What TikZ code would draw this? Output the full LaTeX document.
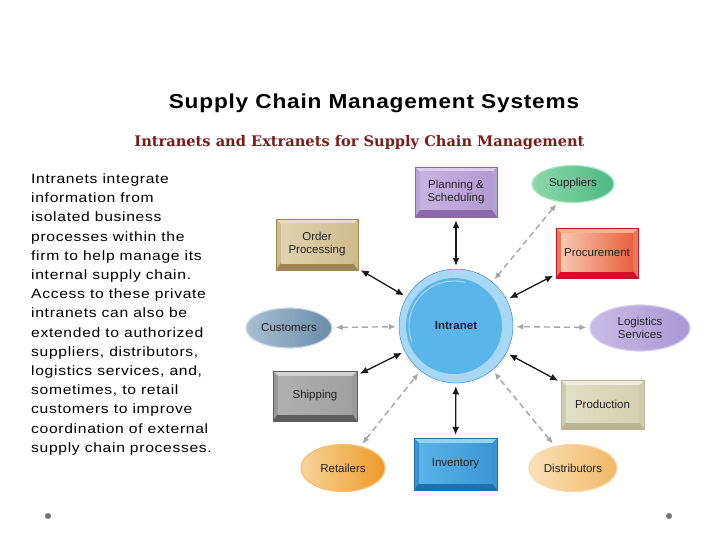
\documentclass[tikz,border=0pt]{standalone}
\usepackage{fontspec}
\setmainfont{Liberation Sans}
\newfontfamily\subfont{DejaVu Serif}
\newfontfamily\titlefont[FakeStretch=1.12, LetterSpace=4]{Liberation Sans}
\newfontfamily\parafont[FakeStretch=1.16, LetterSpace=5]{Liberation Sans}
\usetikzlibrary{shapes.geometric,arrows.meta}
\newcommand\dcol[2]{\definecolor{#1}{HTML}{#2}}
\dcol{subred}{7B1C1C}\dcol{lbl}{222222}
\dcol{ringblue}{A8D8F5}\dcol{edgeblue}{3C8CC4}\dcol{coreblue}{5AB6EA}
\dcol{pfl}{C8B4E2}\dcol{pfr}{B49AD4}\dcol{ptop}{DCCDF0}\dcol{pbot}{8A6AAA}\dcol{pside}{B8A2D6}
\dcol{ofl}{E0D2AE}\dcol{ofr}{CFBD90}\dcol{otop}{E8DDC0}\dcol{obot}{A08656}\dcol{oside}{CDBB8E}
\dcol{rfl}{F9C8B0}\dcol{rfr}{E8603E}\dcol{rtop}{F8B090}\dcol{rbot}{D0102A}\dcol{rside}{E87A5A}
\dcol{sfl}{B0B0B0}\dcol{sfr}{A0A0A0}\dcol{stop}{D2D2D2}\dcol{sbot}{5E5E5E}\dcol{sside}{9A9A9A}
\dcol{dfl}{E2DFC8}\dcol{dfr}{D4D0B2}\dcol{dtop}{EEECDC}\dcol{dbot}{BAB596}\dcol{dside}{D0CCB0}
\dcol{ifl}{5AB4E8}\dcol{ifr}{3C96D4}\dcol{itop}{96D2F2}\dcol{ibot}{2070B0}\dcol{iside}{3A92CE}
\dcol{supl}{8ED8AE}\dcol{supr}{4CB880}\dcol{supd}{A8E6C4}
\dcol{cusl}{A8C0D2}\dcol{cusr}{6A8CA8}\dcol{cusd}{C8D8E4}
\dcol{logl}{C8BCE6}\dcol{logr}{A898D4}\dcol{logd}{D8D0EE}
\dcol{retl}{F8D49A}\dcol{retr}{EE9A28}\dcol{retd}{F8C070}
\dcol{disl}{FAE2B8}\dcol{disr}{F2B868}\dcol{disd}{FAD8A0}
\tikzset{
  bev/.style n args={5}{% face left, face right, top, bottom, side
    rectangle, inner sep=0pt, fill=#5, draw=#4, line width=0.3pt,
    font=\fontsize{11.5}{13}\selectfont, text=lbl, align=center,
    path picture={
      \fill[#3] (path picture bounding box.north west) -- (path picture bounding box.north east)
        -- ([shift={(-5pt,-5pt)}]path picture bounding box.north east)
        -- ([shift={(5pt,-5pt)}]path picture bounding box.north west) -- cycle;
      \fill[#4] (path picture bounding box.south west) -- (path picture bounding box.south east)
        -- ([shift={(-5pt,7pt)}]path picture bounding box.south east)
        -- ([shift={(5pt,7pt)}]path picture bounding box.south west) -- cycle;
      \shade[left color=#1, right color=#2] ([shift={(5pt,-5pt)}]path picture bounding box.north west)
        rectangle ([shift={(-5pt,7pt)}]path picture bounding box.south east);
    }},
  ell/.style n args={3}{ellipse, inner sep=0pt, left color=#1, right color=#2, draw=#3,
    line width=1.2pt, font=\fontsize{11.5}{13}\selectfont, text=lbl, align=center},
  solidarr/.style={{Latex[length=8pt,width=7pt]}-{Latex[length=8pt,width=7pt]}, line width=1.3pt, black!90,
    shorten <=3pt, shorten >=3pt},
  dasharr/.style={{Latex[length=7pt,width=6pt]}-{Latex[length=7pt,width=6pt]}, line width=1.4pt, black!35,
    dash pattern=on 6pt off 4pt, shorten <=3pt, shorten >=3pt},
  dotnode/.style={circle, fill=black!55, inner sep=0pt, minimum size=6pt}
}
\begin{document}
\begin{tikzpicture}[x=1pt,y=-1pt]
\useasboundingbox[fill=white] (0,0) rectangle (720,540);

% titles
\node[anchor=base, font=\titlefont\bfseries\fontsize{20.2}{24}\selectfont] (title) at (374,109) {Supply Chain Management Systems};
\node[anchor=base, font=\subfont\bfseries\fontsize{14.6}{17}\selectfont, text=subred] (subtitle) at (359.5,147)
  {Intranets and Extranets for Supply Chain Management};

% paragraph
\node[anchor=north west, inner sep=0pt, align=left, font=\parafont\fontsize{13.5}{19.2}\selectfont] (para) at (31,173.5)
  {Intranets integrate\\information from\\isolated business\\processes within the\\firm to help manage its\\internal supply chain.\\Access to these private\\intranets can also be\\extended to authorized\\suppliers, distributors,\\logistics services, and,\\sometimes, to retail\\customers to improve\\coordination of external\\supply chain processes.};

% intranet
\node[circle, minimum size=114pt, inner sep=0pt, fill=ringblue, draw=edgeblue, line width=0.5pt,
  font=\bfseries\fontsize{11.5}{13}\selectfont, text=lbl,
  path picture={\fill[coreblue] ([shift={(-2pt,0pt)}]path picture bounding box.center) circle (48pt);
                \draw[white!60!coreblue, line width=0.8pt] ([shift={(-2pt,0pt)}]path picture bounding box.center) ++(75:45pt) arc (75:200:45pt);}]
  (intranet) at (456,326) {Intranet};

% boxes
\node[bev={pfl}{pfr}{ptop}{pbot}{pside}, minimum width=82pt, minimum height=50pt] (plan) at (456,192) {Planning \&\\Scheduling};
\node[bev={ofl}{ofr}{otop}{obot}{oside}, minimum width=82pt, minimum height=51pt] (order) at (317,244.5) {Order\\Processing};
\node[bev={rfl}{rfr}{rtop}{rbot}{rside}, minimum width=82pt, minimum height=50pt] (proc) at (597,253) {Procurement};
\node[bev={sfl}{sfr}{stop}{sbot}{sside}, minimum width=84pt, minimum height=50pt] (ship) at (315,396) {Shipping};
\node[bev={dfl}{dfr}{dtop}{dbot}{dside}, minimum width=83pt, minimum height=49pt] (prod) at (602.5,404.5) {Production};
\node[bev={ifl}{ifr}{itop}{ibot}{iside}, minimum width=83pt, minimum height=52pt] (inv) at (455.5,464) {Inventory};

% ellipses
\node[ell={supl}{supr}{supd}, minimum width=82pt, minimum height=37pt] (sup) at (573,184) {Suppliers};
\node[ell={logl}{logr}{logd}, minimum width=100pt, minimum height=46pt] (logi) at (640,328) {Logistics\\Services};
\node[ell={cusl}{cusr}{cusd}, minimum width=86pt, minimum height=40pt] (cust) at (289,328) {Customers};
\node[ell={retl}{retr}{retd}, minimum width=84pt, minimum height=47pt] (ret) at (343,468) {Retailers};
\node[ell={disl}{disr}{disd}, minimum width=88pt, minimum height=47pt] (dist) at (573,468) {Distributors};

% solid connectors
\draw[solidarr] (plan) -- (intranet);
\draw[solidarr] (order) -- (intranet);
\draw[solidarr] (proc) -- (intranet);
\draw[solidarr] (ship) -- (intranet);
\draw[solidarr] (prod) -- (intranet);
\draw[solidarr] (inv) -- (intranet);

% dashed connectors
\draw[dasharr] (cust) -- (intranet);
\draw[dasharr] (logi) -- (intranet);
\draw[dasharr] (sup) -- (intranet);
\draw[dasharr] (ret) -- (intranet);
\draw[dasharr] (dist) -- (intranet);

% dots
\node[dotnode] (dotL) at (48,516) {};
\node[dotnode] (dotR) at (669,516) {};
\end{tikzpicture}
\end{document}
